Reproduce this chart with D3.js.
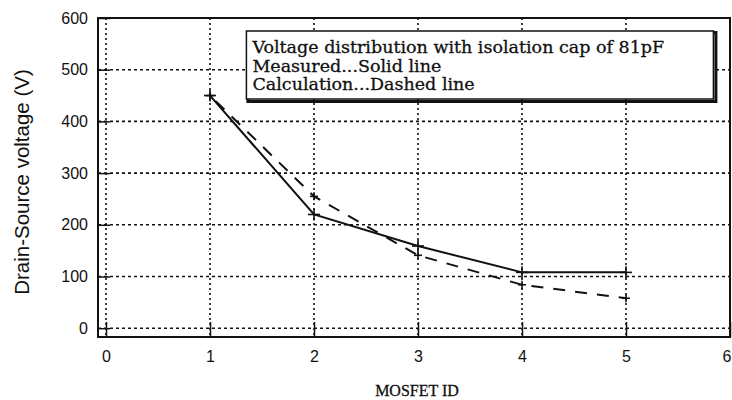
<!DOCTYPE html>
<html>
<head>
<meta charset="utf-8">
<script src="https://cdn.jsdelivr.net/npm/d3@7/dist/d3.min.js"></script>
<style>
  body { margin: 0; background: #fff; }
  .tick text { font-family: "Liberation Sans", sans-serif; font-size: 16px; fill: #111; }
</style>
</head>
<body>
<div id="chart"></div>
<script>
var mosfetIds = [1, 2, 3, 4, 5]
var measured = [450, 220, 159, 108, 108]
var calculated = [450, 255, 141, 84, 58]
var xTicks = [0, 1, 2, 3, 4, 5, 6]
var yTicks = [0, 100, 200, 300, 400, 500, 600]
var legendLines = [
    "Voltage distribution with isolation cap of 81pF",
    "Measured...Solid line",
    "Calculation...Dashed line"
]

var W = 732, H = 400
var margin = { left: 98, right: 2, top: 18, bottom: 63 }
var width = W - margin.left - margin.right,
    height = H - margin.top - margin.bottom

var svg = d3.select("#chart").append("svg")
    .attr("width", W).attr("height", H)
    .append("g")
        .attr("transform", "translate(" + margin.left + "," + margin.top + ")")

var x = d3.scaleLinear().domain([-0.077, 6]).range([0, width])
var y = d3.scaleLinear().domain([-17, 600]).range([height, 0])

// dotted grid
svg.append("g").selectAll("line.hgrid")
    .data(yTicks.filter(d => d < 600))
    .enter().append("line")
        .attr("x1", 0).attr("x2", width)
        .attr("y1", d => y(d)).attr("y2", d => y(d))
        .attr("stroke", "#111").attr("stroke-width", 1.6)
        .attr("stroke-dasharray", "3,3")

svg.append("g").selectAll("line.vgrid")
    .data(xTicks.filter(d => d < 6))
    .enter().append("line")
        .attr("x1", d => x(d)).attr("x2", d => x(d))
        .attr("y1", 0).attr("y2", height)
        .attr("stroke", "#111").attr("stroke-width", 1.6)
        .attr("stroke-dasharray", "2,3")

// axes
var xAxis = d3.axisBottom(x).tickValues(xTicks).tickFormat(d3.format("d")).tickSize(-15).tickPadding(14)
var yAxis = d3.axisLeft(y).tickValues(yTicks).tickFormat(d3.format("d")).tickSize(-12).tickPadding(10)

svg.append("g")
    .attr("transform", "translate(0," + height + ")")
    .call(xAxis)
    .call(g => g.select(".domain").remove())
    .call(g => g.selectAll(".tick line").attr("stroke", "#111").attr("stroke-width", 1.5))
    // last label sits at the right edge
    .call(g => g.selectAll(".tick").filter(d => d == 6).select("text").attr("text-anchor", "end").attr("dx", 1))

svg.append("g")
    .call(yAxis)
    .call(g => g.select(".domain").remove())
    .call(g => g.selectAll(".tick line").attr("stroke", "#111").attr("stroke-width", 1.5))

// frame
svg.append("rect")
    .attr("x", 0).attr("y", 0)
    .attr("width", width).attr("height", height)
    .attr("fill", "none").attr("stroke", "#111").attr("stroke-width", 2)

// series
var line = d3.line().x((d, i) => x(mosfetIds[i])).y(d => y(d))

svg.append("path")
    .datum(calculated)
    .attr("d", line)
    .attr("fill", "none").attr("stroke", "#111").attr("stroke-width", 2)
    .attr("stroke-dasharray", "12,10")
    .attr("stroke-dashoffset", -8)

svg.append("path")
    .datum(measured)
    .attr("d", line)
    .attr("fill", "none").attr("stroke", "#111").attr("stroke-width", 2)

function plus(sel, data, r){
    var g = sel.selectAll(null).data(data).enter().append("g")
        .attr("transform", (d, i) => "translate(" + x(mosfetIds[i]) + "," + y(d) + ")")
    g.append("line").attr("x1", -r).attr("x2", r).attr("stroke", "#111").attr("stroke-width", 1.6)
    g.append("line").attr("y1", -r).attr("y2", r).attr("stroke", "#111").attr("stroke-width", 1.6)
}
plus(svg.append("g"), measured, 6)
plus(svg.append("g"), calculated, 4)

// legend box
var lx = x(1.35), ly = 13
var legend = svg.append("g").attr("transform", "translate(" + lx + "," + ly + ")")
legend.append("rect")
    .attr("x", 1.5).attr("y", 1.5).attr("width", 468).attr("height", 69)
    .attr("fill", "none").attr("stroke", "#111").attr("stroke-width", 3)
legend.append("rect")
    .attr("x", 0).attr("y", 0).attr("width", 467).attr("height", 68)
    .attr("fill", "#fff").attr("stroke", "#111").attr("stroke-width", 1.5)
legend.selectAll("text").data(legendLines).enter().append("text")
    .attr("x", 6)
    .attr("y", (d, i) => 22 + i * 18.5)
    .attr("font-family", "'DejaVu Serif', 'Liberation Serif', serif")
    .attr("font-size", "17.5px")
    .attr("fill", "#111")
    .attr("stroke", "#111").attr("stroke-width", 0.3)
    .text(d => d)

// axis labels
svg.append("text")
    .attr("transform", "rotate(-90)")
    .attr("x", -(182 - margin.top)).attr("y", -margin.left + 29)
    .attr("text-anchor", "middle")
    .attr("font-family", "'Liberation Sans', sans-serif")
    .attr("font-size", "20.5px")
    .attr("fill", "#111")
    .text("Drain-Source voltage (V)")

svg.append("text")
    .attr("x", x(3) - 1).attr("y", height + 59)
    .attr("text-anchor", "middle")
    .attr("font-family", "'Liberation Serif', serif")
    .attr("font-size", "16px")
    .attr("fill", "#111")
    .attr("stroke", "#111").attr("stroke-width", 0.3)
    .text("MOSFET ID")
</script>
</body>
</html>
